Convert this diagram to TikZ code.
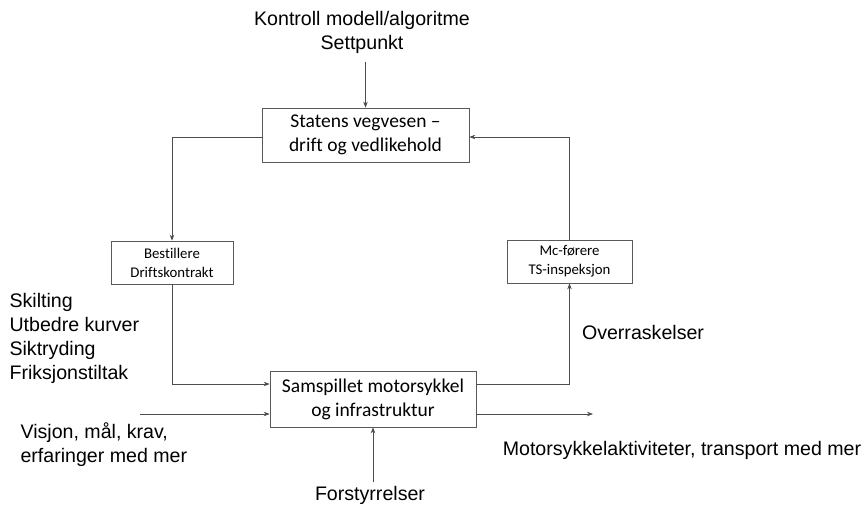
\documentclass[tikz,border=0pt]{standalone}
\usepackage{fontspec}
\setmainfont{Liberation Sans}
\newfontfamily\boksfont[Ligatures=NoCommon]{Carlito}
\usetikzlibrary{arrows.meta}

\begin{document}
\begin{tikzpicture}[x=1pt,y=-1pt,
 boks/.style={draw=black!65,line width=0.7pt,align=center,inner sep=0pt,
  font=\boksfont\fontsize{19.5}{24}\selectfont},
 liten/.style={boks,font=\boksfont\fontsize{14.8}{19}\selectfont},
 tekst/.style={align=center,font=\fontsize{19.6}{24}\selectfont},
 pil/.style={draw=black!70,line width=0.7pt,-{Stealth[length=6pt,width=4.5pt]}}]
 \useasboundingbox (0,0) rectangle (865,506); %ramme
 % bokser
 \node[boks,minimum width=207pt,minimum height=54pt] (SV) at (365.5,135) {Statens vegvesen –\\drift og vedlikehold};
 \node[liten,minimum width=122pt,minimum height=43pt] (BD) at (172,262.5) {Bestillere\\Driftskontrakt};
 \node[liten,minimum width=125pt,minimum height=43pt] (MC) at (569.5,261.5) {Mc-førere\\TS-inspeksjon};
 \node[boks,minimum width=206pt,minimum height=56pt] (SM) at (373,399) {Samspillet motorsykkel\\og infrastruktur};
 % tekster
 \node[tekst] (KM) at (362,32) {Kontroll modell/algoritme\\Settpunkt};
 \node[tekst,align=left,anchor=west] (tiltak) at (6,338) {Skilting\\Utbedre kurver\\Siktryding\\Friksjonstiltak};
 \node[tekst,align=left,anchor=west] (visjon) at (17,445) {Visjon, mål, krav,\\erfaringer med mer};
 \node[tekst] (overr) at (643,332) {Overraskelser};
 \node[tekst] (forst) at (370,495) {Forstyrrelser};
 \node[tekst] (aktiv) at (682,450) {Motorsykkelaktiviteter, transport med mer};
 % endepunkter
 \coordinate (settinn) at (365.5,62);
 \coordinate (visinn) at (140,414);
 \coordinate (forstinn) at (373,482);
 \coordinate (ut) at (593,414);
 % piler
 \draw[pil] (settinn) -- (SV.north);
 \draw[pil] ([yshift=-2pt]SV.west) -| (BD.north);
 \draw[pil] (BD.south) |- ([yshift=15pt]SM.west);
 \draw[pil] (visinn) -- ([yshift=-15pt]SM.west);
 \draw[pil] (forstinn) -- (SM.south);
 \draw[pil] ([yshift=-15pt]SM.east) -- (ut);
 \draw[pil] ([yshift=15pt]SM.east) -| (MC.south);
 \draw[pil] (MC.north) |- ([yshift=-2pt]SV.east);
\end{tikzpicture}
\end{document}
